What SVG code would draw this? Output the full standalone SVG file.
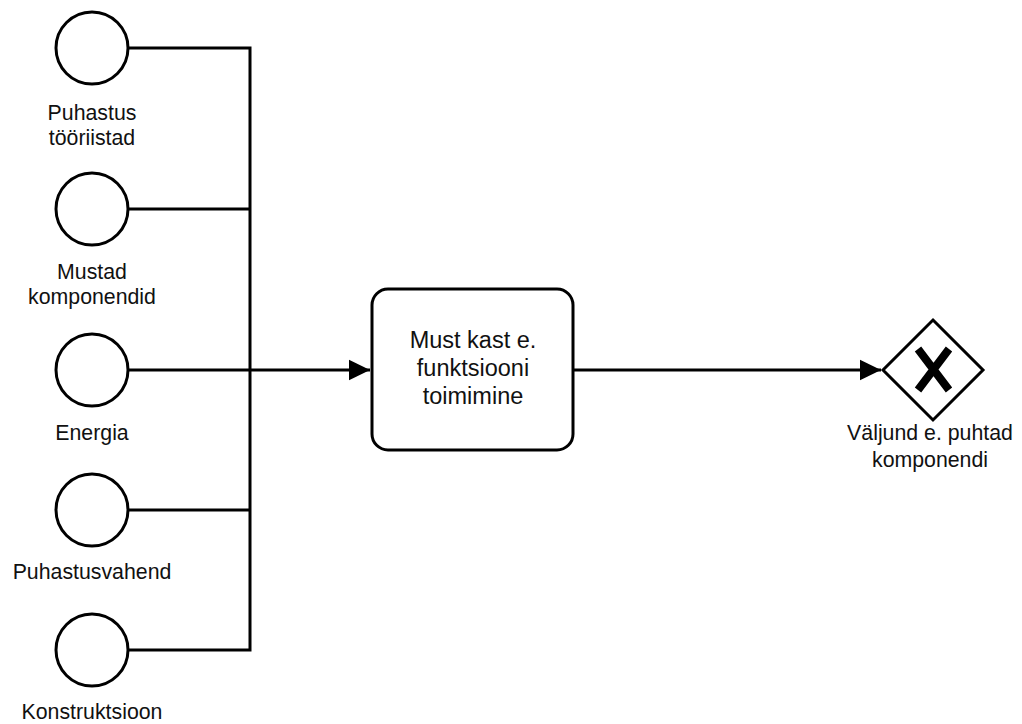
<svg xmlns="http://www.w3.org/2000/svg" width="1022" height="724" viewBox="0 0 1022 724">
  <style>
    .ev { fill: #ffffff; stroke: #000000; stroke-width: 3; }
    .task { fill: #ffffff; stroke: #000000; stroke-width: 3; }
    .gw { fill: #ffffff; stroke: #000000; stroke-width: 3; }
    .xmark { fill: none; stroke: #000000; stroke-width: 8; stroke-linecap: butt; }
    .conn { fill: none; stroke: #000000; stroke-width: 3; }
    .lbl { font-family: "Liberation Sans", Arial, sans-serif; font-size: 21.3px; fill: #111111; text-anchor: middle; }
    .tlbl { font-family: "Liberation Sans", Arial, sans-serif; font-size: 23.5px; fill: #111111; text-anchor: middle; }
  </style>
  <defs>
    <marker id="arrow" markerWidth="8" markerHeight="8" refX="7" refY="4" orient="auto" markerUnits="strokeWidth">
      <path d="M0,0.6 L7,4 L0,7.4 Z" fill="#000000"/>
    </marker>
  </defs>
  <rect width="1022" height="724" fill="#ffffff"/>

  <g id="connectors">
    <path class="conn" d="M128,48 H250 V650 H128"/>
    <path class="conn" d="M128,209 H250"/>
    <path class="conn" d="M128,510 H250"/>
    <path class="conn" d="M128,370 H370" marker-end="url(#arrow)"/>
    <path class="conn" d="M573,370 H881" marker-end="url(#arrow)"/>
  </g>

  <g id="node-puhastus-tooriistad">
    <circle class="ev" cx="92" cy="48" r="36"/>
    <text class="lbl" x="92" y="120">Puhastus</text>
    <text class="lbl" x="92" y="145">tööriistad</text>
  </g>

  <g id="node-mustad-komponendid">
    <circle class="ev" cx="92" cy="209" r="36"/>
    <text class="lbl" x="92" y="279">Mustad</text>
    <text class="lbl" x="92" y="304">komponendid</text>
  </g>

  <g id="node-energia">
    <circle class="ev" cx="92" cy="370" r="36"/>
    <text class="lbl" x="92" y="440">Energia</text>
  </g>

  <g id="node-puhastusvahend">
    <circle class="ev" cx="92" cy="510" r="36"/>
    <text class="lbl" x="92" y="579">Puhastusvahend</text>
  </g>

  <g id="node-konstruktsioon">
    <circle class="ev" cx="92" cy="650" r="36"/>
    <text class="lbl" x="92" y="719">Konstruktsioon</text>
  </g>

  <g id="node-must-kast">
    <rect class="task" x="372" y="289" width="201" height="161" rx="16" ry="16"/>
    <text class="tlbl" x="473" y="348">Must kast e.</text>
    <text class="tlbl" x="473" y="376">funktsiooni</text>
    <text class="tlbl" x="473" y="404">toimimine</text>
  </g>

  <g id="node-valjund">
    <path class="gw" d="M933,320 L983,370 L933,420 L883,370 Z"/>
    <path class="xmark" d="M918,349 L949,390 M949,349 L918,390"/>
    <text class="lbl" x="930" y="440">Väljund e. puhtad</text>
    <text class="lbl" x="930" y="467">komponendi</text>
  </g>
</svg>
